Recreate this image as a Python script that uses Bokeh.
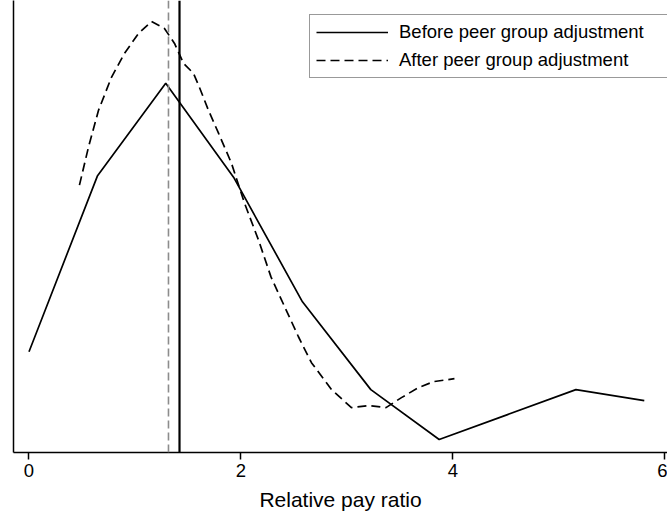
from bokeh.plotting import figure
from bokeh.models import Span, Legend, LegendItem, FixedTicker, Range1d
from bokeh.embed import file_html
from bokeh.resources import INLINE

# Before peer group adjustment (solid)
before_x = [0.0, 0.645, 1.29, 1.935, 2.58, 3.225, 3.87, 4.515, 5.16, 5.805]
before_y = [0.101, 0.277, 0.370, 0.275, 0.151, 0.063, 0.013, 0.038, 0.063, 0.052]

# After peer group adjustment (dashed)
after_x = [0.476, 0.561, 0.656, 0.778, 0.901, 1.033, 1.156, 1.278, 1.373, 1.458,
           1.552, 1.608, 1.693, 1.788, 1.910, 2.033, 2.165, 2.283, 2.382, 2.542,
           2.665, 2.854, 3.042, 3.203, 3.368, 3.514, 3.675, 3.816, 4.014]
after_y = [0.268, 0.306, 0.343, 0.376, 0.400, 0.420, 0.432, 0.425, 0.410, 0.390,
           0.380, 0.366, 0.343, 0.320, 0.290, 0.250, 0.213, 0.176, 0.153, 0.116,
           0.090, 0.063, 0.045, 0.047, 0.045, 0.055, 0.065, 0.071, 0.074]

# Vertical reference lines (means)
vline_before = 1.42
vline_after = 1.316

x_ticks = [0, 2, 4, 6]
x_label = "Relative pay ratio"
labels = ["Before peer group adjustment", "After peer group adjustment"]

FONT = "Liberation Sans"

p = figure(width=667, height=513, output_backend="svg", toolbar_location=None,
           x_range=Range1d(-0.1462, 6.024), y_range=Range1d(0, 0.453),
           min_border_left=13, min_border_right=0, min_border_top=0, min_border_bottom=60)
p.outline_line_color = None
p.xgrid.visible = False
p.ygrid.visible = False
p.background_fill_color = "white"
p.border_fill_color = "white"

# x axis
p.xaxis.ticker = FixedTicker(ticks=x_ticks)
p.xaxis.axis_label = x_label
p.xaxis.axis_line_color = "black"
p.xaxis.axis_line_width = 1.5
p.xaxis.major_tick_line_color = "black"
p.xaxis.major_tick_line_width = 1.5
p.xaxis.major_tick_out = 7
p.xaxis.major_tick_in = 0
p.xaxis.minor_tick_line_color = None
p.xaxis.major_label_standoff = 4
p.xaxis.major_label_text_font = FONT
p.xaxis.major_label_text_font_size = "18.5px"
p.xaxis.major_label_text_color = "black"
p.xaxis.axis_label_text_font = FONT
p.xaxis.axis_label_text_font_size = "21px"
p.xaxis.axis_label_text_font_style = "normal"
p.xaxis.axis_label_text_color = "black"
p.xaxis.axis_label_standoff = 8

# y axis: line only
p.yaxis.ticker = FixedTicker(ticks=[])
p.yaxis.axis_line_color = "black"
p.yaxis.axis_line_width = 1.5
p.yaxis.major_tick_out = 0
p.yaxis.major_tick_in = 0
p.yaxis.minor_tick_line_color = None
p.yaxis.major_label_standoff = 0
p.yaxis.major_label_text_font_size = "0px"

# vertical lines
p.add_layout(Span(location=vline_after, dimension="height", line_color="#8c8c8c",
                  line_width=1.6, line_dash="8 4"))
p.add_layout(Span(location=vline_before, dimension="height", line_color="black",
                  line_width=2.2))

r1 = p.line(before_x, before_y, line_color="black", line_width=1.7)
r2 = p.line(after_x, after_y, line_color="black", line_width=1.7, line_dash="9 5")

legend = Legend(items=[LegendItem(label=labels[0], renderers=[r1]),
                       LegendItem(label=labels[1], renderers=[r2])],
                location=(296, 374), orientation="vertical",
                label_width=300, glyph_width=72, glyph_height=20, label_height=20,
                spacing=6, padding=6, margin=0, label_standoff=11,
                border_line_color="#333333", border_line_width=1.2,
                background_fill_color="white", background_fill_alpha=1.0,
                label_text_font=FONT, label_text_font_size="18.5px",
                label_text_color="black")
p.add_layout(legend)

open("out.html", "w").write(file_html(p, INLINE))
